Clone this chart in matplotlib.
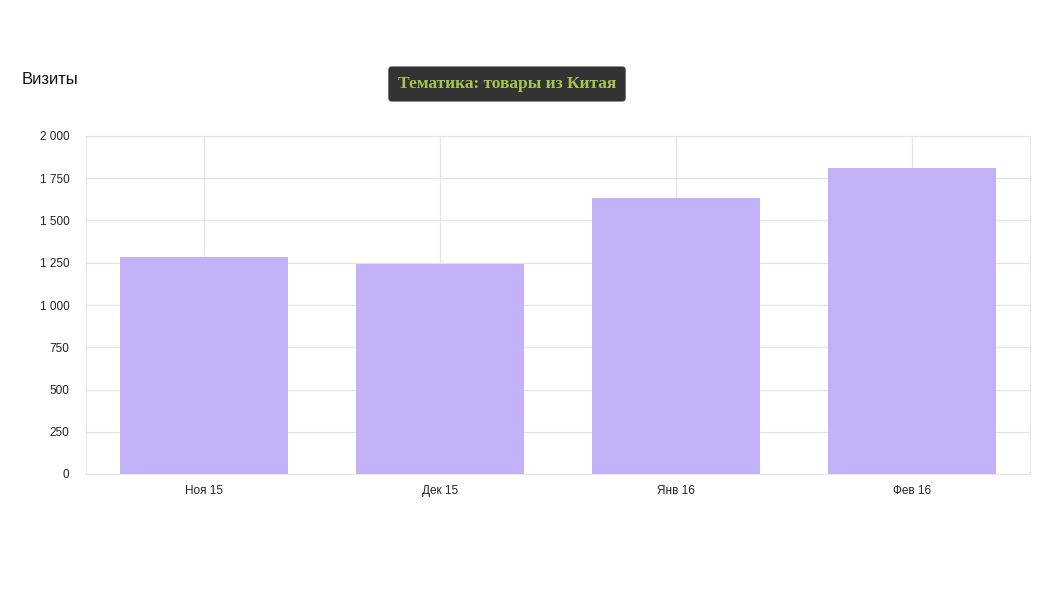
import matplotlib
matplotlib.use("Agg")
import matplotlib.pyplot as plt
from matplotlib.ticker import FuncFormatter

categories = ["Ноя 15", "Дек 15", "Янв 16", "Фев 16"]
visits = [1284, 1243, 1633, 1811]
yticks = [0, 250, 500, 750, 1000, 1250, 1500, 1750, 2000]

plt.rcParams['font.family'] = ['Liberation Sans', 'DejaVu Sans']

fig = plt.figure(figsize=(10.63, 6.0), dpi=100)
ax = fig.add_axes([86/1063, (600-474)/600, 944/1063, 338/600])

x = list(range(len(categories)))
ax.bar(x, visits, width=0.716, color="#c3b1f8", zorder=2)

ax.set_xlim(-0.5, len(categories) - 0.5)
ax.set_ylim(0, 2000)
ax.set_yticks(yticks)
ax.set_xticks(x)
ax.set_xticklabels(categories)
ax.yaxis.set_major_formatter(FuncFormatter(lambda v, p: f"{int(v):,}".replace(",", " ")))

ax.grid(True, color="#e6e6e6", linewidth=1, zorder=0)
for s in ax.spines.values():
    s.set_color("#e6e6e6")
ax.tick_params(length=0, labelsize=8.5, colors="#222222")
ax.tick_params(axis='y', pad=12)
ax.tick_params(axis='x', pad=8)

fig.text(22/1063, 1 - 80/600, "Визиты", fontsize=12, color="#111111", va="center", ha="left")
fig.text(507/1063, 1 - 84/600, "Тематика: товары из Китая", fontsize=12.5, color="#a8c64e",
         family=["Liberation Serif"], fontweight="bold", ha="center", va="center",
         bbox=dict(boxstyle="round,pad=0.55,rounding_size=0.2", facecolor="#333333", edgecolor="none"))

fig.savefig("out.png", dpi=100)
